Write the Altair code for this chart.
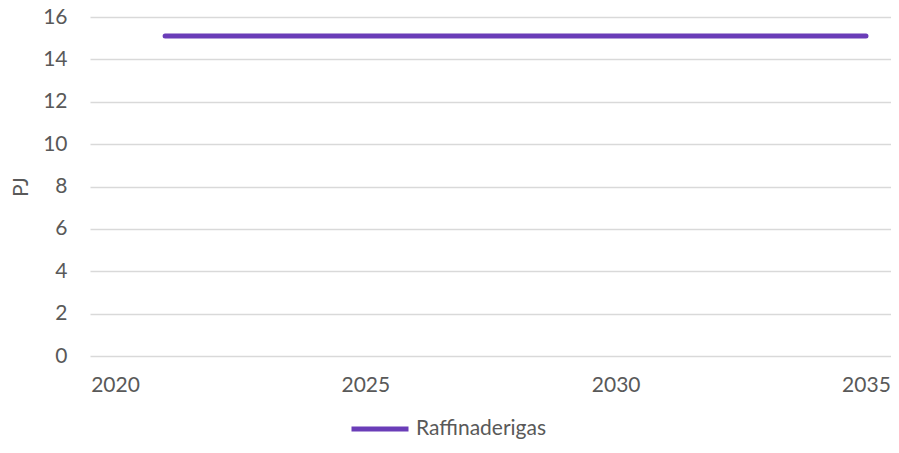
import altair as alt
import pandas as pd

years = list(range(2021, 2036))
values = [15.1] * len(years)
series = ["Raffinaderigas"] * len(years)

x_ticks = [2020, 2025, 2030, 2035]
y_ticks = [0, 2, 4, 6, 8, 10, 12, 14, 16]

df = pd.DataFrame({"year": years, "value": values, "series": series})

FONT = "Lato"
GREY = "#595959"
FS = 21

chart = alt.Chart(df).mark_line(strokeWidth=5, strokeCap="round").encode(
    x=alt.X("year:Q",
            scale=alt.Scale(domain=[2019.5, 2035.5], nice=False, zero=False),
            axis=alt.Axis(values=x_ticks, format="d", title=None, grid=False,
                          domain=False, ticks=False, labelPadding=18,
                          labelFontSize=FS, labelColor=GREY, labelFont=FONT)),
    y=alt.Y("value:Q",
            scale=alt.Scale(domain=[0, 16], nice=False),
            axis=alt.Axis(values=y_ticks, title="PJ", grid=True, gridColor="#d9d9d9",
                          gridWidth=1.5, domain=False, ticks=False, labelPadding=23,
                          labelFontSize=FS, labelColor=GREY, labelFont=FONT,
                          titleFontSize=FS, titleColor=GREY, titleFont=FONT,
                          titleFontWeight="normal", titlePadding=11)),
    color=alt.Color("series:N",
                    scale=alt.Scale(range=["#6a3db8"]),
                    legend=alt.Legend(title=None, orient="none", legendX=259, legendY=381,
                                      symbolType="stroke", symbolSize=3249,
                                      symbolStrokeWidth=5, labelOffset=5,
                                      labelFontSize=FS, labelColor=GREY, labelFont=FONT)),
).properties(
    width=801, height=339,
    autosize=alt.AutoSizeParams(type="none"),
    padding={"left": 82, "top": 9, "right": 0, "bottom": 86},
).configure_view(stroke=None)

chart.save("out.html", embed_options={"renderer": "svg", "actions": False})
